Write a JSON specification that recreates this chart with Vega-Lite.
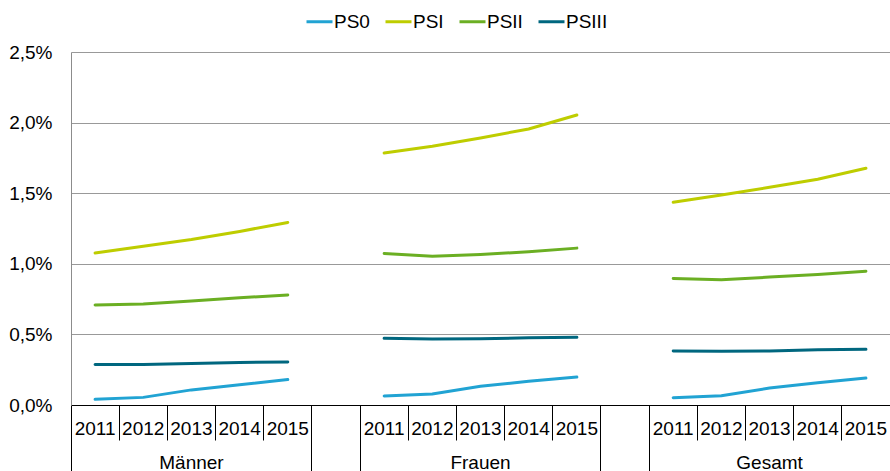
{
  "$schema": "https://vega.github.io/schema/vega-lite/v6.json",
  "width": 819,
  "height": 353,
  "autosize": {"type": "none"},
  "padding": {"left": 71, "top": 52, "right": 0, "bottom": 66},
  "config": {
    "font": "Liberation Sans",
    "view": {"stroke": null},
    "axis": {"labelFont": "Liberation Sans", "labelFontSize": 19, "labelColor": "#000000"}
  },
  "data": {"values": [
    {"slot": "M2011", "grp": "Männer", "s": "PS0", "v": 0.040},
    {"slot": "M2012", "grp": "Männer", "s": "PS0", "v": 0.054},
    {"slot": "M2013", "grp": "Männer", "s": "PS0", "v": 0.107},
    {"slot": "M2014", "grp": "Männer", "s": "PS0", "v": 0.144},
    {"slot": "M2015", "grp": "Männer", "s": "PS0", "v": 0.180},
    {"slot": "M2011", "grp": "Männer", "s": "PSI", "v": 1.077},
    {"slot": "M2012", "grp": "Männer", "s": "PSI", "v": 1.125},
    {"slot": "M2013", "grp": "Männer", "s": "PSI", "v": 1.172},
    {"slot": "M2014", "grp": "Männer", "s": "PSI", "v": 1.229},
    {"slot": "M2015", "grp": "Männer", "s": "PSI", "v": 1.293},
    {"slot": "M2011", "grp": "Männer", "s": "PSII", "v": 0.708},
    {"slot": "M2012", "grp": "Männer", "s": "PSII", "v": 0.715},
    {"slot": "M2013", "grp": "Männer", "s": "PSII", "v": 0.736},
    {"slot": "M2014", "grp": "Männer", "s": "PSII", "v": 0.760},
    {"slot": "M2015", "grp": "Männer", "s": "PSII", "v": 0.779},
    {"slot": "M2011", "grp": "Männer", "s": "PSIII", "v": 0.286},
    {"slot": "M2012", "grp": "Männer", "s": "PSIII", "v": 0.287},
    {"slot": "M2013", "grp": "Männer", "s": "PSIII", "v": 0.294},
    {"slot": "M2014", "grp": "Männer", "s": "PSIII", "v": 0.301},
    {"slot": "M2015", "grp": "Männer", "s": "PSIII", "v": 0.305},
    {"slot": "F2011", "grp": "Frauen", "s": "PS0", "v": 0.064},
    {"slot": "F2012", "grp": "Frauen", "s": "PS0", "v": 0.078},
    {"slot": "F2013", "grp": "Frauen", "s": "PS0", "v": 0.132},
    {"slot": "F2014", "grp": "Frauen", "s": "PS0", "v": 0.168},
    {"slot": "F2015", "grp": "Frauen", "s": "PS0", "v": 0.198},
    {"slot": "F2011", "grp": "Frauen", "s": "PSI", "v": 1.785},
    {"slot": "F2012", "grp": "Frauen", "s": "PSI", "v": 1.832},
    {"slot": "F2013", "grp": "Frauen", "s": "PSI", "v": 1.891},
    {"slot": "F2014", "grp": "Frauen", "s": "PSI", "v": 1.955},
    {"slot": "F2015", "grp": "Frauen", "s": "PSI", "v": 2.054},
    {"slot": "F2011", "grp": "Frauen", "s": "PSII", "v": 1.073},
    {"slot": "F2012", "grp": "Frauen", "s": "PSII", "v": 1.054},
    {"slot": "F2013", "grp": "Frauen", "s": "PSII", "v": 1.066},
    {"slot": "F2014", "grp": "Frauen", "s": "PSII", "v": 1.085},
    {"slot": "F2015", "grp": "Frauen", "s": "PSII", "v": 1.111},
    {"slot": "F2011", "grp": "Frauen", "s": "PSIII", "v": 0.472},
    {"slot": "F2012", "grp": "Frauen", "s": "PSIII", "v": 0.467},
    {"slot": "F2013", "grp": "Frauen", "s": "PSIII", "v": 0.469},
    {"slot": "F2014", "grp": "Frauen", "s": "PSIII", "v": 0.476},
    {"slot": "F2015", "grp": "Frauen", "s": "PSIII", "v": 0.479},
    {"slot": "G2011", "grp": "Gesamt", "s": "PS0", "v": 0.052},
    {"slot": "G2012", "grp": "Gesamt", "s": "PS0", "v": 0.066},
    {"slot": "G2013", "grp": "Gesamt", "s": "PS0", "v": 0.120},
    {"slot": "G2014", "grp": "Gesamt", "s": "PS0", "v": 0.158},
    {"slot": "G2015", "grp": "Gesamt", "s": "PS0", "v": 0.191},
    {"slot": "G2011", "grp": "Gesamt", "s": "PSI", "v": 1.436},
    {"slot": "G2012", "grp": "Gesamt", "s": "PSI", "v": 1.488},
    {"slot": "G2013", "grp": "Gesamt", "s": "PSI", "v": 1.542},
    {"slot": "G2014", "grp": "Gesamt", "s": "PSI", "v": 1.599},
    {"slot": "G2015", "grp": "Gesamt", "s": "PSI", "v": 1.677},
    {"slot": "G2011", "grp": "Gesamt", "s": "PSII", "v": 0.896},
    {"slot": "G2012", "grp": "Gesamt", "s": "PSII", "v": 0.887},
    {"slot": "G2013", "grp": "Gesamt", "s": "PSII", "v": 0.906},
    {"slot": "G2014", "grp": "Gesamt", "s": "PSII", "v": 0.925},
    {"slot": "G2015", "grp": "Gesamt", "s": "PSII", "v": 0.948},
    {"slot": "G2011", "grp": "Gesamt", "s": "PSIII", "v": 0.382},
    {"slot": "G2012", "grp": "Gesamt", "s": "PSIII", "v": 0.380},
    {"slot": "G2013", "grp": "Gesamt", "s": "PSIII", "v": 0.382},
    {"slot": "G2014", "grp": "Gesamt", "s": "PSIII", "v": 0.392},
    {"slot": "G2015", "grp": "Gesamt", "s": "PSIII", "v": 0.394}
  ]},
  "mark": {"type": "line", "strokeWidth": 3, "strokeCap": "round"},
  "encoding": {
    "x": {
      "field": "slot", "type": "ordinal", "bandPosition": 0.5,
      "scale": {"type": "band", "paddingInner": 0, "paddingOuter": 0,
        "domain": ["M2011", "M2012", "M2013", "M2014", "M2015", "Mx", "F2011", "F2012", "F2013", "F2014", "F2015", "Fx", "G2011", "G2012", "G2013", "G2014", "G2015"]},
      "axis": {
        "title": null, "orient": "bottom", "bandPosition": 0,
        "tickSize": {"condition": {"test": "datum.value == 'M2011' || datum.value == 'Mx' || datum.value == 'F2011' || datum.value == 'Fx' || datum.value == 'G2011'", "value": 66}, "value": 35},
        "labelPadding": {"condition": {"test": "datum.value == 'M2011' || datum.value == 'Mx' || datum.value == 'F2011' || datum.value == 'Fx' || datum.value == 'G2011'", "value": -52}, "value": -21},
        "tickColor": "#000000", "domainColor": "#000000", "grid": false, "labelAngle": 0,
        "labelExpr": "[length(datum.value) < 5 ? '' : substring(datum.value, 1), datum.value == 'M2013' ? 'Männer' : datum.value == 'F2013' ? 'Frauen' : datum.value == 'G2013' ? 'Gesamt' : '']",
        "labelLineHeight": 34, "labelBaseline": "top"
      }
    },
    "y": {
      "field": "v", "type": "quantitative",
      "scale": {"domain": [0, 2.5], "nice": false},
      "axis": {
        "title": null,
        "values": [0, 0.5, 1, 1.5, 2, 2.5],
        "labelExpr": "replace(format(datum.value, '.1f'), '.', ',') + '%'",
        "ticks": false, "labelPadding": 19,
        "domainColor": "#8C8C8C", "gridColor": "#999999", "grid": true
      }
    },
    "color": {
      "field": "s", "type": "nominal",
      "scale": {"domain": ["PS0", "PSI", "PSII", "PSIII"], "range": ["#21A3D3", "#BECD00", "#6BAF23", "#00677F"]},
      "legend": {
        "title": null, "orient": "none", "direction": "horizontal",
        "legendX": 234, "legendY": -45,
        "symbolType": "stroke", "symbolSize": 676, "symbolStrokeWidth": 3,
        "labelFontSize": 19, "labelFont": "Liberation Sans", "labelColor": "#000000",
        "labelOffset": 0, "columnPadding": 9
      }
    },
    "detail": {"field": "grp"}
  }
}
